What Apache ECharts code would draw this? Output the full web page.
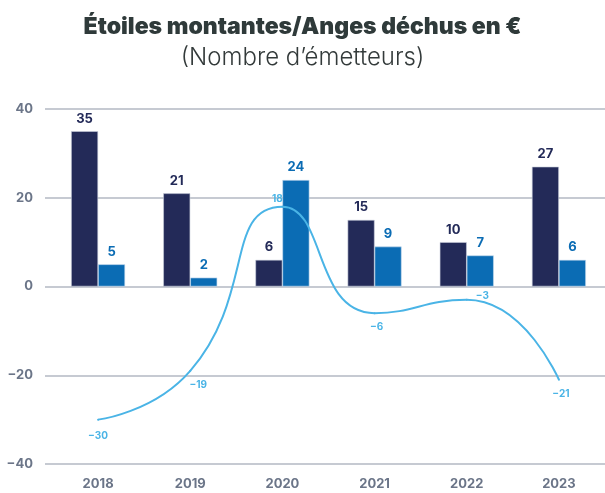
<!DOCTYPE html>
<html>
<head>
<meta charset="utf-8">
<script src="https://cdn.jsdelivr.net/npm/echarts@6/dist/echarts.min.js"></script>
<style>html,body{margin:0;padding:0;background:#fff;}#c{width:605px;height:493px;}</style>
</head>
<body>
<div id="c"></div>
<script>
var categories = ['2018', '2019', '2020', '2021', '2022', '2023'];
var etoiles = [35, 21, 6, 15, 10, 27];
var anges = [5, 2, 24, 9, 7, 6];
var solde = [-30, -19, 18, -6, -3, -21];
var yTicks = [-40, -20, 0, 20, 40];

var lineLabelPos = ['bottom', 'bottom', 'top', 'bottom', 'right', 'bottom'];
var lineLabelOffset = [[0, 2], [8, 0], [-5, 6], [2, 0], [0, -4], [2, 0]];

var chart = echarts.init(document.getElementById('c'));
var fam = 'Inter, "Noto Sans", sans-serif';
var axisCol = '#6b7588';
chart.setOption({
  animation: false,
  title: [{
    text: 'Étoiles montantes/Anges déchus en €',
    left: 'center', top: 11,
    textStyle: {fontFamily: fam, fontSize: 23, fontWeight: 900, color: '#2f3a3a'}
  }, {
    text: '(Nombre d\u2019émetteurs)',
    left: 'center', top: 41,
    textStyle: {fontFamily: fam, fontSize: 24, fontWeight: 300, color: '#333a3a'}
  }],
  grid: [
    {left: 45, right: 0, top: 109, bottom: 29},
    {left: 52, right: -8, top: 109, bottom: 29}
  ],
  xAxis: [
    {gridIndex: 0, type: 'category', data: categories, show: false},
    {gridIndex: 1, type: 'category', data: categories,
      axisLine: {show: false}, axisTick: {show: false},
      axisLabel: {color: axisCol, fontFamily: fam, fontWeight: 'bold', fontSize: 13, margin: 14}}
  ],
  yAxis: [
    {gridIndex: 0, type: 'value', min: -40, max: 40, interval: 20,
      axisLine: {show: false}, axisTick: {show: false},
      axisLabel: {color: axisCol, fontFamily: fam, fontWeight: 'bold', fontSize: 13, margin: 12,
        formatter: function (v) { return yTicks.indexOf(v) >= 0 ? String(v).replace('-', '\u2212') : ''; }},
      splitLine: {lineStyle: {color: '#b3b8c3', width: 1.5}}},
    {gridIndex: 1, type: 'value', min: -40, max: 40, interval: 20, show: false, splitLine: {show: false}}
  ],
  series: [
    {type: 'bar', xAxisIndex: 1, yAxisIndex: 1, data: etoiles, barWidth: 27, barGap: '0%',
      itemStyle: {color: '#232a58', borderColor: '#c9cfdc', borderWidth: 0.6},
      label: {show: true, position: 'top', distance: 6, color: '#232a58', fontFamily: fam, fontWeight: 'bold', fontSize: 13}},
    {type: 'bar', xAxisIndex: 1, yAxisIndex: 1, data: anges, barWidth: 27, barGap: '0%',
      itemStyle: {color: '#0b6cb4', borderColor: '#c9dcee', borderWidth: 0.6},
      label: {show: true, position: 'top', distance: 6, color: '#0b6cb4', fontFamily: fam, fontWeight: 'bold', fontSize: 13}},
    {type: 'line', xAxisIndex: 1, yAxisIndex: 1, smooth: 0.55, showSymbol: true, symbol: 'circle', symbolSize: 2,
      data: solde.map(function (v, i) {
        return {value: v, label: {position: lineLabelPos[i], offset: lineLabelOffset[i]}};
      }),
      lineStyle: {color: '#4ab4e6', width: 2},
      itemStyle: {color: '#4ab4e6', borderWidth: 0},
      label: {show: true, color: '#4ab4e6', fontFamily: fam, fontWeight: 'bold', fontSize: 10, distance: 8,
        formatter: function (p) { return String(p.value).replace('-', '\u2212'); }}}
  ]
});
</script>
</body>
</html>
